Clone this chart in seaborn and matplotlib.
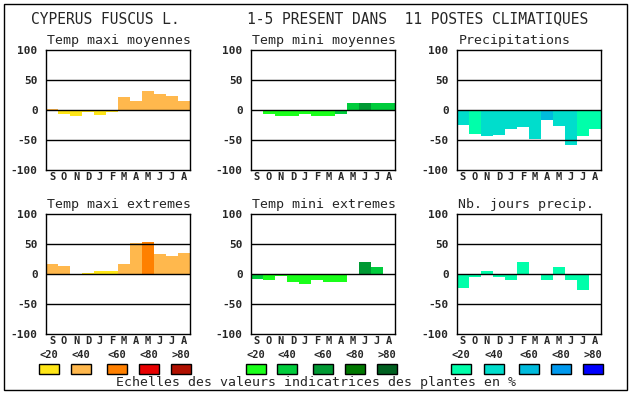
import numpy as np
import pandas as pd
import matplotlib
matplotlib.use("Agg")
import matplotlib.pyplot as plt
import seaborn as sns
from matplotlib.patches import Rectangle

# ---------------- data ----------------
months = ["S", "O", "N", "D", "J", "F", "M", "A", "M", "J", "J", "A"]
scale_labels = ["<20", "<40", "<60", "<80", ">80"]

temp_colors = ["#FFE617", "#FFB84D", "#FF8000", "#E80000", "#B01000"]
mini_colors = ["#1AFF1A", "#00CC3C", "#009933", "#007800", "#006020"]
prec_colors = ["#00FFAA", "#00DDCC", "#00BBDD", "#0099EE", "#0000FF"]

tmax_moy = [2, -7, -10, -4, -8, -4, 22, 15, 32, 27, 24, 15]
tmax_moy_cls = [1, 0, 0, 0, 0, 0, 1, 1, 1, 1, 1, 1]

tmin_moy = [0, -7, -10, -10, -7, -10, -10, -7, 12, 12, 12, 12]
tmin_moy_cls = [0, 0, 0, 0, 0, 0, 0, 1, 1, 2, 1, 1]

precip = [-25, -40, -43, -41, -31, -28, -49, -17, -26, -58, -44, -32]
precip_cls = [1, 0, 1, 1, 1, 1, 1, 2, 1, 1, 0, 0]

tmax_ext = [17, 14, 0, 2, 5, 5, 17, 52, 54, 34, 30, 35]
tmax_ext_cls = [1, 1, 0, 0, 0, 0, 1, 1, 2, 1, 1, 1]

tmin_ext = [-8, -10, -4, -14, -16, -10, -13, -13, 0, 20, 12, 0]
tmin_ext_cls = [1, 0, 0, 0, 0, 0, 0, 0, 0, 2, 1, 0]

jours_precip = [-24, -5, 5, -5, -10, 20, 0, -10, 12, -10, -27, -1]
jours_precip_cls = [0, 0, 0, 0, 0, 0, 0, 0, 0, 0, 0, 0]

panels = [
    ("Temp maxi moyennes", tmax_moy, tmax_moy_cls, temp_colors),
    ("Temp mini moyennes", tmin_moy, tmin_moy_cls, mini_colors),
    ("Precipitations", precip, precip_cls, prec_colors),
    ("Temp maxi extremes", tmax_ext, tmax_ext_cls, temp_colors),
    ("Temp mini extremes", tmin_ext, tmin_ext_cls, mini_colors),
    ("Nb. jours precip.", jours_precip, jours_precip_cls, prec_colors),
]

# ---------------- figure ----------------
W, H = 630, 394
sns.set_style("white")
plt.rcParams["font.family"] = ["DejaVu Sans Mono"]

fig = plt.figure(figsize=(W / 100, H / 100), dpi=100)

# background layer for frame, titles and scale legend
bg = fig.add_axes([0, 0, 1, 1])
bg.set_xlim(0, W)
bg.set_ylim(H, 0)
bg.axis("off")
bg.add_patch(Rectangle((4, 4), 623, 386, fill=False, ec="black", lw=1))

bg.text(31, 19, "CYPERUS FUSCUS L.", fontsize=10.5, va="center", ha="left")
bg.text(247, 19, "1-5 PRESENT DANS  11 POSTES CLIMATIQUES", fontsize=10.5,
        va="center", ha="left")

col_x = [46, 251, 457]
row_y = [50, 214]
ax_w, ax_h = 144, 120

for i, (title, vals, cls, cols) in enumerate(panels):
    x0 = col_x[i % 3]
    y0 = row_y[i // 3]
    ax = fig.add_axes([x0 / W, 1 - (y0 + ax_h) / H, ax_w / W, ax_h / H])
    df = pd.DataFrame({"pos": range(12), "val": vals,
                       "cls": [str(c) for c in cls]})
    pal = {str(k): c for k, c in enumerate(cols)}
    sns.barplot(data=df, x="pos", y="val", hue="cls", palette=pal,
                dodge=False, width=1, saturation=1, linewidth=0,
                errorbar=None, legend=False, ax=ax)
    for yv in (-50, 0, 50):
        ax.axhline(yv, color="black", lw=1, zorder=5)
    ax.set_xlim(-0.5, 11.5)
    ax.set_ylim(-100, 100)
    ax.set_yticks([-100, -50, 0, 50, 100])
    ax.set_yticklabels(["-100", "-50", "0", "50", "100"],
                       fontsize=8, fontweight="bold")
    ax.set_xticks(range(12))
    ax.set_xticklabels(months, fontsize=7.5, fontweight="bold")
    ax.tick_params(length=0, axis="y", pad=6)
    ax.tick_params(length=0, axis="x", pad=1.5)
    ax.set_xlabel("")
    ax.set_ylabel("")
    ax.set_title(title, loc="left", fontsize=9.5, pad=4, x=0.01)
    for sp in ax.spines.values():
        sp.set_color("black")
        sp.set_linewidth(1)
        sp.set_visible(True)

# scale legend
swatch_x = [[39, 71, 107, 139, 171],
            [246, 277, 313, 345, 377],
            [451, 484, 519, 551, 583]]
for cols, xs in zip([temp_colors, mini_colors, prec_colors], swatch_x):
    for c, lab, sx in zip(cols, scale_labels, xs):
        bg.add_patch(Rectangle((sx, 364), 20, 10, fc=c, ec="black", lw=1))
        bg.text(sx + 10, 354.5, lab, fontsize=7.5, fontweight="bold",
                ha="center", va="center")

bg.text(316, 382.5, "Echelles des valeurs indicatrices des plantes en %",
        fontsize=9.5, ha="center", va="center")

fig.savefig("out.png", dpi=100)
